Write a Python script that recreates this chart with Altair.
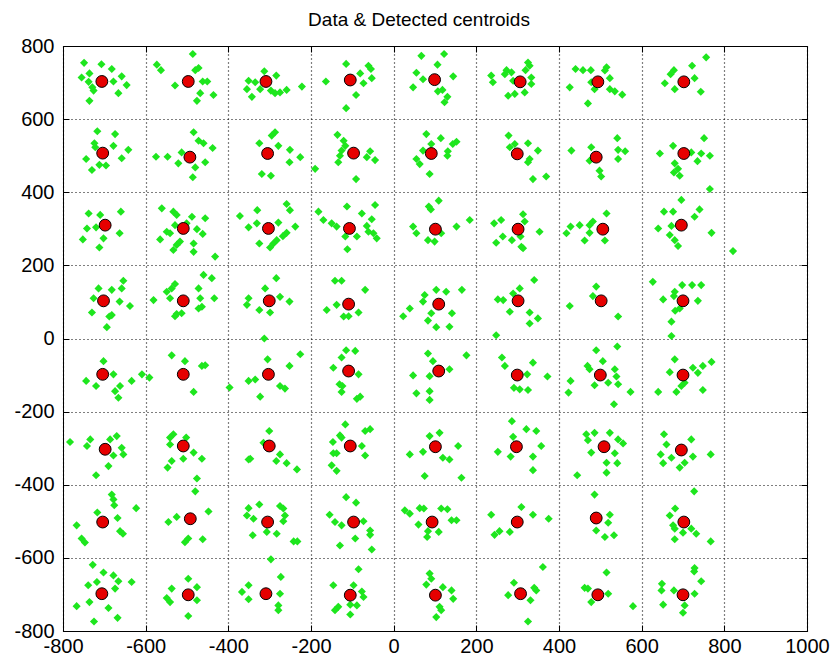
import altair as alt
import pandas as pd

TITLE = "Data & Detected centroids"
X_TICKS = [-800, -600, -400, -200, 0, 200, 400, 600, 800, 1000]
Y_TICKS = [-800, -600, -400, -200, 0, 200, 400, 600, 800]
X_DOMAIN = [-800, 1000]
Y_DOMAIN = [-800, 800]

CENTROID_X = [-706, -497, -309, -105, 99, 306, 494, 702,
              -704, -493, -305, -97, 91, 299, 490, 702,
              -698, -509, -303, -107, 101, 301, 506, 696,
              -702, -509, -301, -109, 109, 301, 502, 700,
              -704, -509, -303, -109, 109, 299, 500, 700,
              -698, -509, -301, -105, 101, 297, 509, 696,
              -704, -492, -305, -97, 93, 299, 490, 702,
              -706, -497, -309, -105, 101, 307, 494, 700]
CENTROID_Y = [703, 703, 703, 707, 708, 702, 702, 702,
              507, 496, 506, 507, 506, 505, 496, 506,
              310, 301, 301, 301, 299, 299, 299, 310,
              103, 103, 103, 94, 94, 103, 103, 103,
              -98, -98, -98, -89, -89, -100, -100, -100,
              -303, -294, -294, -294, -296, -296, -296, -305,
              -502, -493, -502, -502, -502, -502, -491, -502,
              -698, -701, -698, -702, -702, -698, -701, -701]

GREEN_ROW_700 = [(-749, 754), (-707, 750), (-682, 737), (-736, 725), (-658, 717), (-755, 714), (-738, 702), (-678, 703), (-646, 693), (-729, 687), (-726, 678), (-666, 671), (-736, 650),
                 (-486, 778), (-573, 749), (-563, 734), (-480, 734), (-472, 740), (-529, 692), (-462, 703), (-451, 703), (-468, 671), (-436, 666), (-476, 650),
                 (-313, 731), (-284, 719), (-351, 705), (-335, 701), (-355, 682), (-323, 682), (-343, 661), (-297, 678), (-287, 671), (-275, 673), (-259, 680), (-222, 689),
                 (-115, 751), (-61, 746), (-55, 737), (-81, 725), (-53, 712), (-164, 703), (-73, 698), (-91, 666), (-115, 630),
                 (67, 773), (122, 778), (106, 749), (55, 727), (71, 709), (144, 717), (47, 687), (107, 676), (118, 680), (130, 661), (123, 646),
                 (325, 755), (329, 746), (319, 734), (273, 734), (269, 723), (285, 728), (236, 719), (240, 701), (289, 705), (333, 714), (333, 696), (317, 673), (293, 669), (277, 664),
                 (440, 737), (458, 734), (477, 734), (515, 742), (511, 733), (523, 712), (426, 687), (478, 701), (486, 682), (523, 682), (535, 676), (553, 667), (470, 643),
                 (756, 769), (722, 746), (678, 734), (670, 723), (728, 712), (656, 698), (680, 682), (743, 675)]

GREEN_ROW_500 = [(-717, 567), (-674, 559), (-724, 534), (-678, 527), (-642, 516), (-744, 491), (-658, 493), (-712, 475), (-696, 473), (-730, 461), (-722, 523),
                 (-484, 564), (-472, 541), (-460, 534), (-438, 521), (-575, 497), (-547, 497), (-521, 479), (-456, 482), (-480, 468), (-486, 441), (-513, 509),
                 (-287, 564), (-295, 555), (-325, 534), (-279, 527), (-251, 516), (-226, 496), (-252, 482), (-319, 450), (-297, 445),
                 (-136, 557), (-121, 541), (-117, 527), (-126, 514), (-130, 500), (-134, 482), (-57, 512), (-65, 496), (-45, 488), (-190, 464), (-91, 436),
                 (79, 559), (114, 548), (152, 538), (143, 532), (91, 532), (71, 514), (131, 512), (130, 500), (55, 491), (63, 477), (87, 450),
                 (278, 555), (293, 532), (325, 534), (349, 514), (329, 491), (325, 482), (337, 436), (369, 443), (281, 523),
                 (541, 548), (430, 514), (543, 516), (560, 512), (478, 523), (543, 491), (474, 486), (498, 459), (502, 443),
                 (751, 548), (676, 527), (644, 506), (720, 509), (744, 506), (765, 500), (735, 485), (680, 479), (688, 464), (678, 454), (692, 445), (765, 409)]

GREEN_ROW_300 = [(-738, 342), (-710, 338), (-660, 347), (-742, 301), (-720, 304), (-663, 288), (-702, 274), (-752, 271), (-712, 249),
                 (-561, 356), (-533, 347), (-525, 338), (-488, 333), (-456, 329), (-501, 315), (-529, 310), (-549, 292), (-541, 288), (-476, 299), (-462, 286), (-565, 271), (-517, 265), (-525, 256), (-533, 242), (-484, 260), (-484, 237), (-432, 224),
                 (-372, 335), (-330, 351), (-259, 368), (-251, 351), (-331, 315), (-351, 304), (-279, 317), (-238, 306), (-259, 289), (-268, 280), (-325, 260), (-291, 260), (-299, 249), (-283, 269),
                 (-182, 347), (-170, 324), (-113, 361), (-77, 342), (-45, 365), (-53, 326), (-150, 315), (-138, 306), (-65, 308), (-61, 292), (-49, 288), (-41, 274), (-89, 279), (-117, 279), (-112, 244),
                 (109, 377), (85, 361), (90, 353), (47, 306), (55, 288), (83, 269), (99, 265), (115, 288), (152, 306), (184, 324),
                 (313, 340), (317, 320), (260, 324), (243, 315), (353, 292), (264, 279), (286, 269), (248, 262), (307, 279), (309, 251), (313, 247),
                 (515, 342), (482, 320), (474, 310), (450, 310), (428, 306), (418, 288), (474, 289), (462, 268), (511, 268),
                 (696, 379), (740, 353), (654, 347), (676, 347), (728, 333), (640, 301), (672, 308), (769, 289), (668, 283), (680, 269), (688, 253), (821, 239)]

GREEN_ROW_100 = [(-654, 158), (-658, 137), (-714, 137), (-682, 133), (-726, 110), (-663, 101), (-638, 89), (-730, 71), (-682, 64), (-688, 60), (-694, 31),
                 (-460, 174), (-440, 165), (-529, 149), (-537, 137), (-549, 128), (-472, 137), (-541, 110), (-581, 105), (-468, 110), (-434, 110), (-464, 87), (-472, 82), (-525, 67), (-513, 69), (-529, 61),
                 (-284, 165), (-311, 137), (-351, 110), (-355, 92), (-325, 78), (-275, 114), (-252, 101), (-299, 71),
                 (-142, 158), (-126, 158), (-69, 133), (-162, 78), (-138, 92), (-121, 60), (-109, 61), (-85, 71),
                 (103, 133), (127, 128), (75, 119), (165, 133), (71, 101), (39, 82), (23, 61), (91, 69), (141, 69), (83, 49), (103, 31), (135, 32),
                 (340, 160), (305, 137), (289, 123), (252, 107), (265, 105), (281, 73), (329, 71), (349, 55), (329, 41), (248, 9),
                 (490, 142), (482, 116), (426, 89), (543, 60),
                 (627, 155), (698, 146), (722, 146), (744, 146), (680, 128), (678, 116), (652, 107), (736, 103), (692, 82), (681, 76), (672, 46), (672, 7)]

GREEN_ROW_M100 = [(-702, -62), (-678, -98), (-744, -116), (-720, -130), (-662, -130), (-674, -144), (-666, -162), (-634, -116), (-609, -98), (-591, -107),
                  (-537, -46), (-505, -62), (-464, -75), (-456, -73), (-484, -146),
                  (-313, 0), (-226, -43), (-305, -57), (-252, -75), (-351, -116), (-335, -112), (-275, -130), (-263, -137), (-323, -159), (-397, -134),
                  (-115, -32), (-93, -34), (-126, -52), (-146, -80), (-85, -98), (-131, -125), (-124, -130), (-126, -146), (-89, -165), (-81, -159),
                  (83, -41), (95, -62), (176, -46), (135, -84), (47, -101), (87, -103), (55, -150), (87, -144), (87, -168),
                  (262, -52), (269, -75), (337, -66), (323, -98), (372, -104), (291, -135), (305, -139), (325, -141),
                  (490, -32), (541, -22), (506, -62), (469, -75), (474, -84), (535, -84), (539, -104), (428, -116), (486, -128), (519, -121), (543, -125), (573, -146), (423, -148), (533, -180),
                  (680, -57), (769, -64), (748, -75), (724, -80), (736, -94), (668, -92), (704, -121), (696, -130), (684, -146), (640, -146), (748, -141)]

GREEN_ROW_M300 = [(-783, -283), (-734, -276), (-742, -294), (-686, -276), (-670, -267), (-658, -299), (-654, -317), (-678, -320), (-690, -349), (-720, -374),
                  (-533, -262), (-541, -271), (-541, -290), (-502, -271), (-484, -312), (-464, -329), (-509, -329), (-537, -335), (-547, -353), (-476, -383),
                  (-301, -253), (-315, -285), (-275, -317), (-284, -335), (-259, -341), (-234, -358), (-347, -329), (-351, -331),
                  (-117, -235), (-69, -253), (-57, -248), (-130, -265), (-126, -271), (-147, -283), (-77, -294), (-69, -320), (-146, -314), (-138, -314), (-150, -347), (-138, -362),
                  (87, -267), (111, -258), (156, -294), (71, -310), (39, -317), (119, -326), (135, -331), (75, -376), (164, -381),
                  (286, -226), (321, -248), (345, -253), (289, -269), (357, -294), (252, -310), (283, -323), (337, -323), (337, -360),
                  (466, -262), (486, -258), (470, -278), (523, -258), (543, -276), (555, -287), (478, -312), (535, -314), (515, -340), (541, -341), (515, -367), (444, -374),
                  (654, -262), (660, -290), (720, -276), (646, -317), (672, -326), (724, -323), (767, -317), (704, -340), (652, -341), (692, -353)]

GREEN_ROW_M500 = [(-682, -427), (-678, -440), (-676, -456), (-623, -464), (-717, -476), (-668, -491), (-767, -511), (-662, -527), (-655, -534), (-755, -547), (-747, -558),
                  (-480, -418), (-448, -473), (-525, -488), (-545, -502), (-505, -557), (-497, -547), (-462, -549),
                  (-351, -464), (-325, -454), (-275, -458), (-267, -465), (-263, -484), (-355, -484), (-339, -493), (-267, -500), (-307, -529), (-283, -534), (-341, -538), (-242, -555), (-233, -555),
                  (-115, -434), (-91, -449), (-155, -482), (-142, -502), (-126, -511), (-73, -500), (-57, -525), (-57, -537), (-93, -547), (-130, -566), (-53, -577),
                  (27, -470), (39, -479), (63, -464), (73, -465), (115, -465), (130, -467), (60, -509), (140, -497), (152, -497), (83, -527), (109, -529), (81, -543),
                  (309, -461), (337, -482), (236, -482), (375, -493), (281, -529), (256, -527), (244, -537),
                  (486, -427), (523, -482), (519, -504), (490, -525), (511, -543), (533, -538),
                  (727, -418), (681, -465), (668, -484), (676, -511), (680, -520), (700, -531), (720, -520), (732, -534), (680, -549), (767, -555)]

GREEN_ROW_M700 = [(-728, -619), (-702, -640), (-678, -648), (-666, -664), (-718, -666), (-739, -675), (-674, -684), (-634, -666), (-736, -721), (-690, -737), (-767, -732), (-668, -764), (-725, -774),
                  (-497, -657), (-476, -680), (-537, -684), (-549, -710), (-541, -721), (-476, -716), (-497, -759),
                  (-297, -604), (-273, -652), (-351, -675), (-367, -693), (-351, -713), (-275, -698), (-279, -730), (-279, -743),
                  (-85, -631), (-146, -675), (-97, -675), (-77, -692), (-73, -707), (-89, -730), (-105, -728), (-134, -734), (-142, -743), (-105, -755),
                  (87, -643), (91, -657), (79, -673), (119, -680), (140, -689), (144, -712), (111, -734), (115, -743), (103, -762),
                  (361, -625), (291, -668), (340, -682), (345, -689), (277, -702), (331, -716), (325, -774),
                  (515, -640), (462, -682), (470, -684), (478, -721), (519, -698), (579, -732),
                  (728, -628), (727, -637), (744, -664), (649, -671), (648, -689), (678, -689), (728, -698), (652, -728), (704, -730), (700, -750)]

green_pts = (GREEN_ROW_700 + GREEN_ROW_500 + GREEN_ROW_300 + GREEN_ROW_100 +
             GREEN_ROW_M100 + GREEN_ROW_M300 + GREEN_ROW_M500 + GREEN_ROW_M700)
green_df = pd.DataFrame(green_pts, columns=["x", "y"])
cent_df = pd.DataFrame({"x": CENTROID_X, "y": CENTROID_Y})

FONT = "Liberation Sans"
xscale = alt.Scale(domain=X_DOMAIN, nice=False, zero=False)
yscale = alt.Scale(domain=Y_DOMAIN, nice=False, zero=False)

TICK = 6
LABEL_EXPR = "'' + datum.value"

x_bottom = alt.Axis(orient="bottom", values=X_TICKS, title=None, grid=True,
                    gridColor="black", gridDash=[1, 3], gridOpacity=1, gridWidth=1.2,
                    domain=False, ticks=True, tickSize=TICK, offset=-TICK,
                    tickColor="black", tickWidth=1, labelPadding=5,
                    labelExpr=LABEL_EXPR,
                    labelFont=FONT, labelFontSize=20, labelColor="black",
                    labelFlush=False, labelOverlap=False)
y_left = alt.Axis(orient="left", values=Y_TICKS, title=None, grid=True,
                  gridColor="black", gridDash=[1, 3], gridOpacity=1, gridWidth=1.2,
                  domain=False, ticks=True, tickSize=TICK, offset=-TICK,
                  tickColor="black", tickWidth=1, labelPadding=9,
                  labelExpr=LABEL_EXPR,
                  labelFont=FONT, labelFontSize=20, labelColor="black",
                  labelFlush=False, labelOverlap=False)
x_top = alt.Axis(orient="top", values=X_TICKS, title=None, grid=False,
                 domain=False, ticks=True, tickSize=TICK, offset=-TICK,
                 tickColor="black", labels=False)
y_right = alt.Axis(orient="right", values=Y_TICKS, title=None, grid=False,
                   domain=False, ticks=True, tickSize=TICK, offset=-TICK,
                   tickColor="black", labels=False)

green_layer = alt.Chart(green_df).mark_point(
    shape="diamond", filled=True, size=66, color="#1ee61e", opacity=1
).encode(
    x=alt.X("x:Q", scale=xscale, axis=x_bottom),
    y=alt.Y("y:Q", scale=yscale, axis=y_left),
)

cent_layer = alt.Chart(cent_df).mark_circle(
    size=140, fill="#e60000", stroke="black", strokeWidth=1, opacity=1, fillOpacity=1
).encode(
    x=alt.X("x:Q", scale=xscale, axis=x_top),
    y=alt.Y("y:Q", scale=yscale, axis=y_right),
)

chart = alt.layer(green_layer, cent_layer).resolve_axis(
    x="independent", y="independent"
).properties(
    width=744,
    height=585,
    title=alt.TitleParams(text=TITLE, font=FONT, fontSize=19, fontWeight="normal",
                          color="black", anchor="middle", dx=-16, dy=27, offset=18,
                          baseline="alphabetic"),
    autosize=alt.AutoSizeParams(type="none"),
    padding={"left": 63, "top": 46, "right": 25, "bottom": 36},
    background="white",
).configure_view(
    stroke="black", strokeWidth=1
)

chart.save("out.html", embed_options={"renderer": "svg", "actions": False})
